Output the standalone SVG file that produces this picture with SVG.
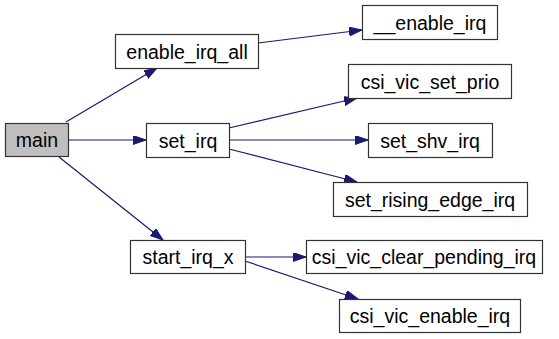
<svg xmlns="http://www.w3.org/2000/svg" width="559" height="339" viewBox="0 0 559 339">
  <defs>
    <marker id="arrow" markerUnits="userSpaceOnUse" markerWidth="14" markerHeight="11" refX="13" refY="4.5" orient="auto">
      <path d="M0,0 L13,4.5 L0,9 z" fill="#191970" stroke="#191970" stroke-width="1"/>
    </marker>
  </defs>
  <style>
    .node rect { fill: #ffffff; stroke: #333333; stroke-width: 1.2; }
    .node.root rect { fill: #bfbfbf; }
    .node text { font-family: "Liberation Sans", Arial, sans-serif; font-size: 19.5px; fill: #000000; text-anchor: middle; }
    .edges line { stroke: #191970; stroke-width: 1.2; marker-end: url(#arrow); }
  </style>
  <rect width="559" height="339" fill="#ffffff"/>

  <g class="edges" id="edges">
    <line x1="66" y1="122" x2="157" y2="68"/>
    <line x1="68" y1="140" x2="146" y2="140"/>
    <line x1="59" y1="157" x2="163" y2="240"/>
    <line x1="258" y1="43" x2="362" y2="30"/>
    <line x1="229" y1="128" x2="357" y2="98"/>
    <line x1="229" y1="140" x2="368" y2="140"/>
    <line x1="229" y1="149" x2="357" y2="182"/>
    <line x1="245" y1="257" x2="306" y2="257"/>
    <line x1="245" y1="261" x2="358" y2="299"/>
  </g>

  <g class="node root" id="main">
    <rect x="5.5" y="123.5" width="63" height="33"/>
    <text x="37" y="146.5">main</text>
  </g>
  <g class="node" id="enable_irq_all">
    <rect x="115.5" y="34.5" width="143" height="34"/>
    <text x="187" y="58.5">enable_irq_all</text>
  </g>
  <g class="node" id="__enable_irq">
    <rect x="362.5" y="5.5" width="135" height="34"/>
    <text x="430" y="29.5">__enable_irq</text>
  </g>
  <g class="node" id="csi_vic_set_prio">
    <rect x="348.5" y="64.5" width="163" height="34"/>
    <text x="430" y="88.5">csi_vic_set_prio</text>
  </g>
  <g class="node" id="set_irq">
    <rect x="146.5" y="123.5" width="83" height="34"/>
    <text x="188" y="147.5">set_irq</text>
  </g>
  <g class="node" id="set_shv_irq">
    <rect x="368.5" y="123.5" width="124" height="34"/>
    <text x="430" y="147.5">set_shv_irq</text>
  </g>
  <g class="node" id="set_rising_edge_irq">
    <rect x="333.5" y="182.5" width="194" height="34"/>
    <text x="430" y="206.5">set_rising_edge_irq</text>
  </g>
  <g class="node" id="start_irq_x">
    <rect x="130.5" y="240.5" width="115" height="33"/>
    <text x="188" y="263.5">start_irq_x</text>
  </g>
  <g class="node" id="csi_vic_clear_pending_irq">
    <rect x="306.5" y="240.5" width="236" height="33"/>
    <text x="424" y="263.5">csi_vic_clear_pending_irq</text>
  </g>
  <g class="node" id="csi_vic_enable_irq">
    <rect x="339.5" y="299.5" width="181" height="33"/>
    <text x="430" y="322.5">csi_vic_enable_irq</text>
  </g>
</svg>
